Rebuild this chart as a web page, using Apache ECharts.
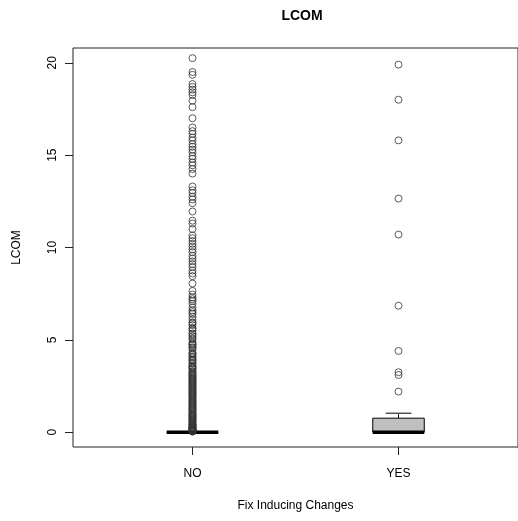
<!DOCTYPE html>
<html>
<head>
<meta charset="utf-8">
<script src="https://cdn.jsdelivr.net/npm/echarts@6/dist/echarts.min.js"></script>
<style>
  html, body { margin: 0; padding: 0; background: #fff; }
  #chart { width: 518px; height: 521px; }
</style>
</head>
<body>
<div id="chart"></div>
<script>
// Groups on the x axis (positions 1 and 2)
const categories = ['NO', 'YES'];

// Five-number summaries: [low whisker, Q1, median, Q3, high whisker]
const boxNO  = [0, 0, 0, 0, 0];
const boxYES = [0, 0, 0, 0.76, 1.03];

// Values beyond the whiskers
const outliersNO = [
  20.25, 19.5, 19.35, 18.85, 18.7, 18.55, 18.4, 18.25, 17.95, 17.6, 17.0,
  16.5, 16.3, 16.15, 15.95, 15.8, 15.6, 15.45, 15.3, 15.15, 14.95, 14.8, 14.6, 14.45, 14.25, 14.0,
  13.3, 13.1, 12.95, 12.75, 12.6, 12.4, 11.95, 11.45, 11.3, 11.0,
  10.65, 10.5, 10.35, 10.2, 10.05, 9.9, 9.75, 9.55, 9.4, 9.25, 9.1, 8.95, 8.75, 8.6, 8.45, 8.05,
  7.65, 7.45, 7.3, 7.1, 6.95, 6.75, 6.6, 6.4, 6.25, 6.1, 5.95, 5.8, 5.65, 5.5, 5.35, 5.2, 5.05,
  4.9, 4.8, 4.7, 4.55, 4.45, 4.3, 4.2, 4.1, 3.95, 3.85, 3.75, 3.6, 3.5, 3.4, 3.3, 3.2, 3.1, 3.0,
  2.9, 2.8, 2.7, 2.6, 2.5, 2.4, 2.3, 2.2, 2.1, 2.0, 1.9, 1.8, 1.7, 1.6, 1.5, 1.4, 1.33, 1.25,
  1.17, 1.1, 1.0, 0.92, 0.85, 0.8, 0.75, 0.67, 0.6, 0.5, 0.45, 0.4, 0.33, 0.29, 0.25, 0.2,
  0.17, 0.14, 0.11, 0.08, 0.05,
  0.03, 0.07, 0.13, 0.22, 0.27, 0.36, 0.42, 0.55, 0.63, 0.71, 0.88, 0.95, 1.05, 1.2, 1.3,
  1.45, 1.55, 1.65, 1.75, 1.85, 1.95, 2.05, 2.15, 2.25, 2.35, 2.45, 2.55, 2.65, 2.75, 2.85,
  2.95, 3.05, 3.15, 3.25, 3.45, 3.55, 3.7, 3.9, 4.05, 4.25, 4.6, 4.75, 5.1, 5.3, 5.6, 5.9,
  6.5, 7.2
];
const outliersYES = [19.9, 18.0, 15.8, 12.65, 10.7, 6.85, 4.4, 3.25, 3.1, 2.2];

// Axis tick positions
const xTicks = [1, 2];
const yTicks = [0, 5, 10, 15, 20];

const FONT = '"Liberation Sans", Arial, sans-serif';

const boxData = [[1].concat(boxNO), [2].concat(boxYES)];
const outlierData = outliersNO.map(v => [1, v]).concat(outliersYES.map(v => [2, v]));

const chart = echarts.init(document.getElementById('chart'), null, { renderer: 'canvas' });

function renderBox(params, api) {
  const x = api.value(0);
  const lo = api.value(1), q1 = api.value(2), med = api.value(3), q3 = api.value(4), hi = api.value(5);
  const half = 0.125, stapleHalf = 0.0625;
  const c = (xx, yy) => api.coord([xx, yy]);
  const children = [];
  const dashed = { stroke: '#000', lineWidth: 1, lineDash: [4, 4], fill: null };
  const solid = { stroke: '#000', lineWidth: 1, fill: null };
  // whiskers
  if (hi > q3) {
    const a = c(x, q3), b = c(x, hi);
    children.push({ type: 'line', shape: { x1: a[0], y1: a[1], x2: b[0], y2: b[1] }, style: dashed });
  }
  if (lo < q1) {
    const a = c(x, q1), b = c(x, lo);
    children.push({ type: 'line', shape: { x1: a[0], y1: a[1], x2: b[0], y2: b[1] }, style: dashed });
  }
  // staples
  [hi, lo].forEach(v => {
    const a = c(x - stapleHalf, v), b = c(x + stapleHalf, v);
    children.push({ type: 'line', shape: { x1: a[0], y1: a[1], x2: b[0], y2: b[1] }, style: solid });
  });
  // box
  const tl = c(x - half, q3), br = c(x + half, q1);
  children.push({
    type: 'rect',
    shape: { x: tl[0], y: tl[1], width: br[0] - tl[0], height: br[1] - tl[1] },
    style: { fill: '#c0c0c0', stroke: '#000', lineWidth: 1 }
  });
  // median
  const m1 = c(x - half, med), m2 = c(x + half, med);
  children.push({ type: 'line', shape: { x1: m1[0], y1: m1[1], x2: m2[0], y2: m2[1] },
    style: { stroke: '#000', lineWidth: 3.5, fill: null } });
  return { type: 'group', children };
}

chart.setOption({
  animation: false,
  backgroundColor: '#fff',
  title: {
    text: 'LCOM',
    left: 297,
    textAlign: 'center',
    top: 4,
    textStyle: { fontFamily: FONT, fontSize: 14, fontWeight: 'bold', color: '#000' }
  },
  grid: {
    left: 73, top: 48, width: 447, height: 399,
    show: true, borderColor: '#222', borderWidth: 1, backgroundColor: 'transparent'
  },
  xAxis: {
    type: 'value',
    min: 0.42, max: 2.58,
    splitLine: { show: false },
    axisLine: { show: false, onZero: false },
    axisTick: { show: true, length: 8, lineStyle: { color: '#222' }, customValues: xTicks },
    axisLabel: {
      show: true, margin: 21, color: '#000', fontFamily: FONT, fontSize: 12,
      customValues: xTicks,
      formatter: v => categories[Math.round(v) - 1] || ''
    },
    name: 'Fix Inducing Changes',
    nameLocation: 'middle',
    nameGap: 53,
    nameTextStyle: { fontFamily: FONT, fontSize: 12, color: '#000' }
  },
  yAxis: {
    type: 'value',
    min: -0.8, max: 20.8,
    splitLine: { show: false },
    axisLine: { show: false, onZero: false },
    axisTick: { show: true, length: 8, lineStyle: { color: '#222' }, customValues: yTicks },
    axisLabel: {
      show: true, rotate: 90, margin: 14, color: '#000', fontFamily: FONT, fontSize: 12,
      customValues: yTicks
    },
    name: 'LCOM',
    nameLocation: 'middle',
    nameRotate: 90,
    nameGap: 50,
    nameTextStyle: { fontFamily: FONT, fontSize: 12, color: '#000' }
  },
  series: [
    {
      type: 'custom',
      renderItem: renderBox,
      data: boxData,
      encode: { x: 0, y: [1, 2, 3, 4, 5] },
      z: 2
    },
    {
      type: 'scatter',
      data: outlierData,
      symbol: 'circle',
      symbolSize: 7,
      itemStyle: { color: 'rgba(0,0,0,0)', borderColor: '#333', borderWidth: 1 },
      z: 3
    }
  ]
});
</script>
</body>
</html>
